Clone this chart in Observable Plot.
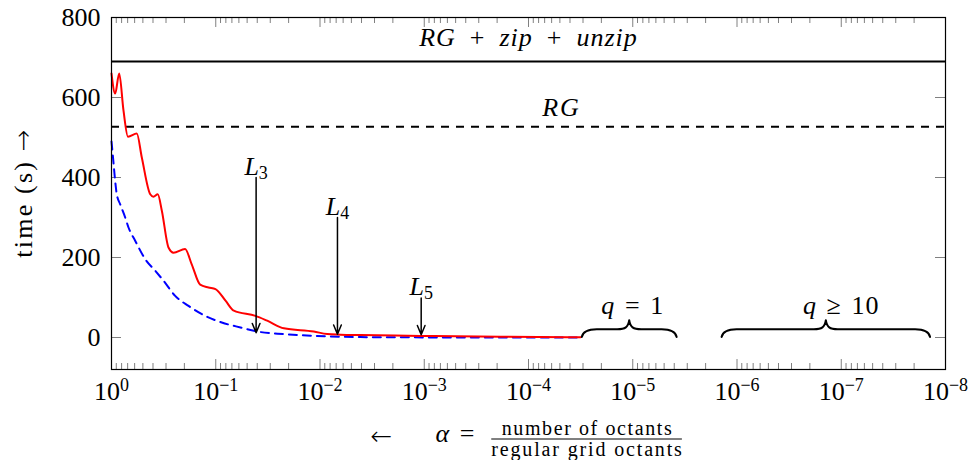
<!DOCTYPE html>
<html>
<head>
<meta charset="utf-8">
<script src="https://cdn.jsdelivr.net/npm/d3@7"></script>
<script src="https://cdn.jsdelivr.net/npm/@observablehq/plot@0.6"></script>
<style>
  html, body { margin: 0; padding: 0; background: white; }
  #chart { width: 974px; height: 460px; }
</style>
</head>
<body>
<div id="chart"></div>
<script>
// ---------- data ----------
const xTickValues = [1, 1e-1, 1e-2, 1e-3, 1e-4, 1e-5, 1e-6, 1e-7, 1e-8];
const yTickValues = [0, 200, 400, 600, 800];

// red solid curve
const redAlpha = [1, 0.922, 0.844, 0.767, 0.695, 0.572, 0.512, 0.425, 0.396, 0.360, 0.329, 0.284, 0.254, 0.197, 0.170, 0.141, 0.1174, 0.1006, 0.0806, 0.0671, 0.0416, 0.0321, 0.0222, 0.01147, 0.00853, 0.00636, 0.00409, 0.001086, 0.000186, 3.17e-5];
const redTime  = [660, 610, 660, 567, 502, 510, 450, 358, 352, 358, 317, 225, 212, 221, 183, 132, 125, 121, 92, 67, 54, 42, 23, 15, 8.5, 7, 6, 4, 2, 0.5];

// blue dashed curve
const blueAlpha = [1, 0.957, 0.922, 0.890, 0.825, 0.739, 0.687, 0.593, 0.475, 0.381, 0.317, 0.245, 0.1825, 0.1263, 0.0875, 0.0579, 0.0400, 0.0222, 0.01063, 0.00636, 0.00409, 0.001, 3.17e-5];
const blueTime  = [490, 437, 391, 358, 333, 300, 275, 242, 196, 167, 142, 104, 79, 54, 37.5, 25, 15, 8.5, 4, 2, 1, 0.3, 0];

// horizontal reference levels
const rgZipUnzipTime = 690;
const rgTime = 527;

// level arrows L3, L4, L5
const arrowNames  = ["*L*_3_", "*L*_4_", "*L*_5_"];
const arrowAlpha  = [0.041, 0.0068, 0.00107];
const arrowTop    = [400, 300, 99];
const arrowBottom = [12, 8, 7];
const arrowLabelTime = [427, 327, 126];

// text labels inside the plot
const labelTexts = ["*RG*\u2002+\u2002*zip*\u2002+\u2002*unzip*", "*RG*", "*q*\u2004=\u20041", "*q*\u2004\u2265\u200410"];
const labelAlpha = [1e-4, 4.82e-5, 1.0e-5, 1.0e-7];
const labelTime  = [750, 574, 80, 80];

// braces
const braceFrom = [3.05e-5, 1.39e-6];
const braceTo   = [3.75e-6, 1.39e-8];
const braceBase = [0, 0];
const braceTip  = [42, 42];

// axis titles
const yTitle = "time (s) ~\u2192~";
const xTitleArrow = "~\u2190~";
const xTitleSymbol = "*\u03b1*\u2004=";
const xTitleNumerator = "number of octants";
const xTitleDenominator = "regular grid octants";

// ---------- tables ----------
const red = redAlpha.map((a, i) => ({alpha: a, time: redTime[i]}));
const blue = blueAlpha.map((a, i) => ({alpha: a, time: blueTime[i]}));
const arrows = arrowAlpha.map((a, i) => ({alpha: a, top: arrowTop[i], bottom: arrowBottom[i], label: arrowLabelTime[i], name: arrowNames[i]}));
const labels = labelTexts.map((t, i) => ({text: t, alpha: labelAlpha[i], time: labelTime[i]}));
const minorX = [];
for (let k = -8; k <= -1; k++) for (let m = 2; m <= 9; m++) minorX.push(m * Math.pow(10, k));

const W = 974, H = 460, mL = 111, mR = 29, mT = 17, mB = 91;
const fw = W - mL - mR, fh = H - mT - mB;
const tickColor = "#808080";
const FONT = "'Liberation Serif', 'DejaVu Serif', serif";

const expFmt = d => {
  const e = Math.round(Math.log10(d));
  return "10^" + (e < 0 ? "\u2212" + (-e) : String(e)) + "^";
};

const plot = Plot.plot({
  width: W, height: H,
  marginLeft: mL, marginRight: mR, marginTop: mT, marginBottom: mB,
  style: {fontFamily: FONT, fontSize: "26px", background: "white", color: "black", overflow: "visible"},
  x: {type: "log", domain: [1, 1e-8]},
  y: {domain: [-80, 800]},
  marks: [
    // tick marks (inside the frame)
    Plot.ruleX(minorX, {insetTop: fh - 6, stroke: tickColor, strokeWidth: 1}),
    Plot.ruleX(minorX, {insetBottom: fh - 6, stroke: tickColor, strokeWidth: 1}),
    Plot.ruleX(xTickValues, {insetTop: fh - 10, stroke: tickColor, strokeWidth: 1}),
    Plot.ruleX(xTickValues, {insetBottom: fh - 10, stroke: tickColor, strokeWidth: 1}),
    Plot.ruleY(yTickValues, {insetRight: fw - 10, stroke: tickColor, strokeWidth: 1}),
    Plot.ruleY(yTickValues, {insetLeft: fw - 10, stroke: tickColor, strokeWidth: 1}),
    Plot.axisX({ticks: xTickValues, tickSize: 0, tickPadding: 12, tickFormat: expFmt, fontSize: 26, label: null}),
    Plot.axisY({ticks: yTickValues, tickSize: 0, tickPadding: 11, fontSize: 26, label: null}),
    // reference levels
    Plot.ruleY([rgZipUnzipTime], {stroke: "black", strokeWidth: 2}),
    Plot.ruleY([rgTime], {stroke: "black", strokeWidth: 2, strokeDasharray: "8,7"}),
    // curves
    Plot.line(blue, {x: "alpha", y: "time", stroke: "#0000ff", strokeWidth: 2, strokeDasharray: "8,6", curve: "monotone-x"}),
    Plot.line(red, {x: "alpha", y: "time", stroke: "#ff0000", strokeWidth: 2, curve: "monotone-x"}),
    // arrows
    Plot.arrow(arrows, {x1: "alpha", x2: "alpha", y1: "top", y2: "bottom", stroke: "black", strokeWidth: 1.5, headLength: 10, headAngle: 45}),
    Plot.text(arrows, {x: "alpha", y: "label", text: "name", fontSize: 26}),
    Plot.text(labels, {x: "alpha", y: "time", text: "text", fontSize: 26}),
    Plot.frame({stroke: "black", strokeWidth: 1.2}),
    // axis titles
    Plot.text([yTitle], {frameAnchor: "left", textAnchor: "middle", lineAnchor: "middle", dx: -88, rotate: -90, fontSize: 26}),
    Plot.text([xTitleArrow], {frameAnchor: "bottom", textAnchor: "middle", lineAnchor: "middle", dx: -147, dy: 67.5, fontSize: 26}),
    Plot.text([xTitleSymbol], {frameAnchor: "bottom", textAnchor: "middle", lineAnchor: "middle", dx: -73, dy: 64.5, fontSize: 26}),
    Plot.text([xTitleNumerator], {frameAnchor: "bottom", textAnchor: "middle", lineAnchor: "middle", dx: 59, dy: 58.6, fontSize: 20}),
    Plot.text([xTitleDenominator], {frameAnchor: "bottom", textAnchor: "middle", lineAnchor: "middle", dx: 59, dy: 79.6, fontSize: 20})
  ]
});

document.getElementById("chart").appendChild(plot);
const svg = d3.select(plot);

// ---------- letter spacing to approximate TeX metrics ----------
const spacing = new Map([
  [xTitleNumerator, 1.6], [xTitleDenominator, 1.85], [yTitle, 2.2],
  [labelTexts[0], 1], [labelTexts[1], 2], [labelTexts[2], 1], [labelTexts[3], 1], [xTitleSymbol, 1]
]);
svg.selectAll("text").each(function () {
  const s = this.textContent;
  if (spacing.has(s)) this.setAttribute("letter-spacing", spacing.get(s));
});

// ---------- rich text (italic, sub, superscripts, symbol font) ----------
const NS = "http://www.w3.org/2000/svg";
svg.selectAll("text").each(function () {
  const s = this.textContent;
  if (!/[\*_\^~]/.test(s)) return;
  const parts = s.split(/(\*[^*]+\*|_[^_]+_|\^[^^]+\^|~[^~]+~)/).filter(p => p !== "");
  this.textContent = "";
  let shift = 0;
  for (const p of parts) {
    const t = document.createElementNS(NS, "tspan");
    let content = p, dy = 0;
    if (p[0] === "*") { content = p.slice(1, -1); t.setAttribute("font-style", "italic"); }
    else if (p[0] === "_") { content = p.slice(1, -1); t.setAttribute("font-size", "18px"); dy = 4; }
    else if (p[0] === "^") { content = p.slice(1, -1); t.setAttribute("font-size", "18px"); dy = -9; }
    else if (p[0] === "~") { content = p.slice(1, -1); t.setAttribute("font-family", "'DejaVu Sans'"); t.setAttribute("font-weight", "200"); t.setAttribute("letter-spacing", 0); }
    const delta = dy - shift;
    if (delta !== 0) t.setAttribute("dy", delta);
    shift = dy;
    t.textContent = content;
    this.appendChild(t);
  }
});

// ---------- fraction bar ----------
const fracTexts = svg.selectAll("text").filter(function () {
  return this.textContent === xTitleNumerator || this.textContent === xTitleDenominator;
}).nodes();
let fx0 = Infinity, fx1 = -Infinity;
for (const n of fracTexts) {
  const r = n.getBoundingClientRect();
  const o = plot.getBoundingClientRect();
  fx0 = Math.min(fx0, r.left - o.left);
  fx1 = Math.max(fx1, r.right - o.left - 1.85);
}
svg.append("line").attr("x1", fx0).attr("x2", fx1).attr("y1", 439).attr("y2", 439)
  .attr("stroke", "black").attr("stroke-width", 1);

// ---------- braces ----------
const sx = plot.scale("x"), sy = plot.scale("y");
braceFrom.forEach((f, i) => {
  const x0 = sx.apply(f), x1 = sx.apply(braceTo[i]);
  const xc = (x0 + x1) / 2;
  const y0 = sy.apply(braceBase[i]), yt = sy.apply(braceTip[i]);
  const ym = y0 - (y0 - yt) * 0.46;
  const r = 15;
  const path = `M${x0},${y0} C${x0 + 1},${ym + 3} ${x0 + 5},${ym} ${x0 + r},${ym} L${xc - 12},${ym} C${xc - 4},${ym} ${xc - 1},${ym - 2} ${xc},${yt} C${xc + 1},${ym - 2} ${xc + 4},${ym} ${xc + 12},${ym} L${x1 - r},${ym} C${x1 - 5},${ym} ${x1 - 1},${ym + 3} ${x1},${y0}`;
  svg.append("path").attr("d", path).attr("fill", "none").attr("stroke", "black")
    .attr("stroke-width", 2).attr("stroke-linecap", "round").attr("stroke-linejoin", "round");
});
</script>
</body>
</html>
